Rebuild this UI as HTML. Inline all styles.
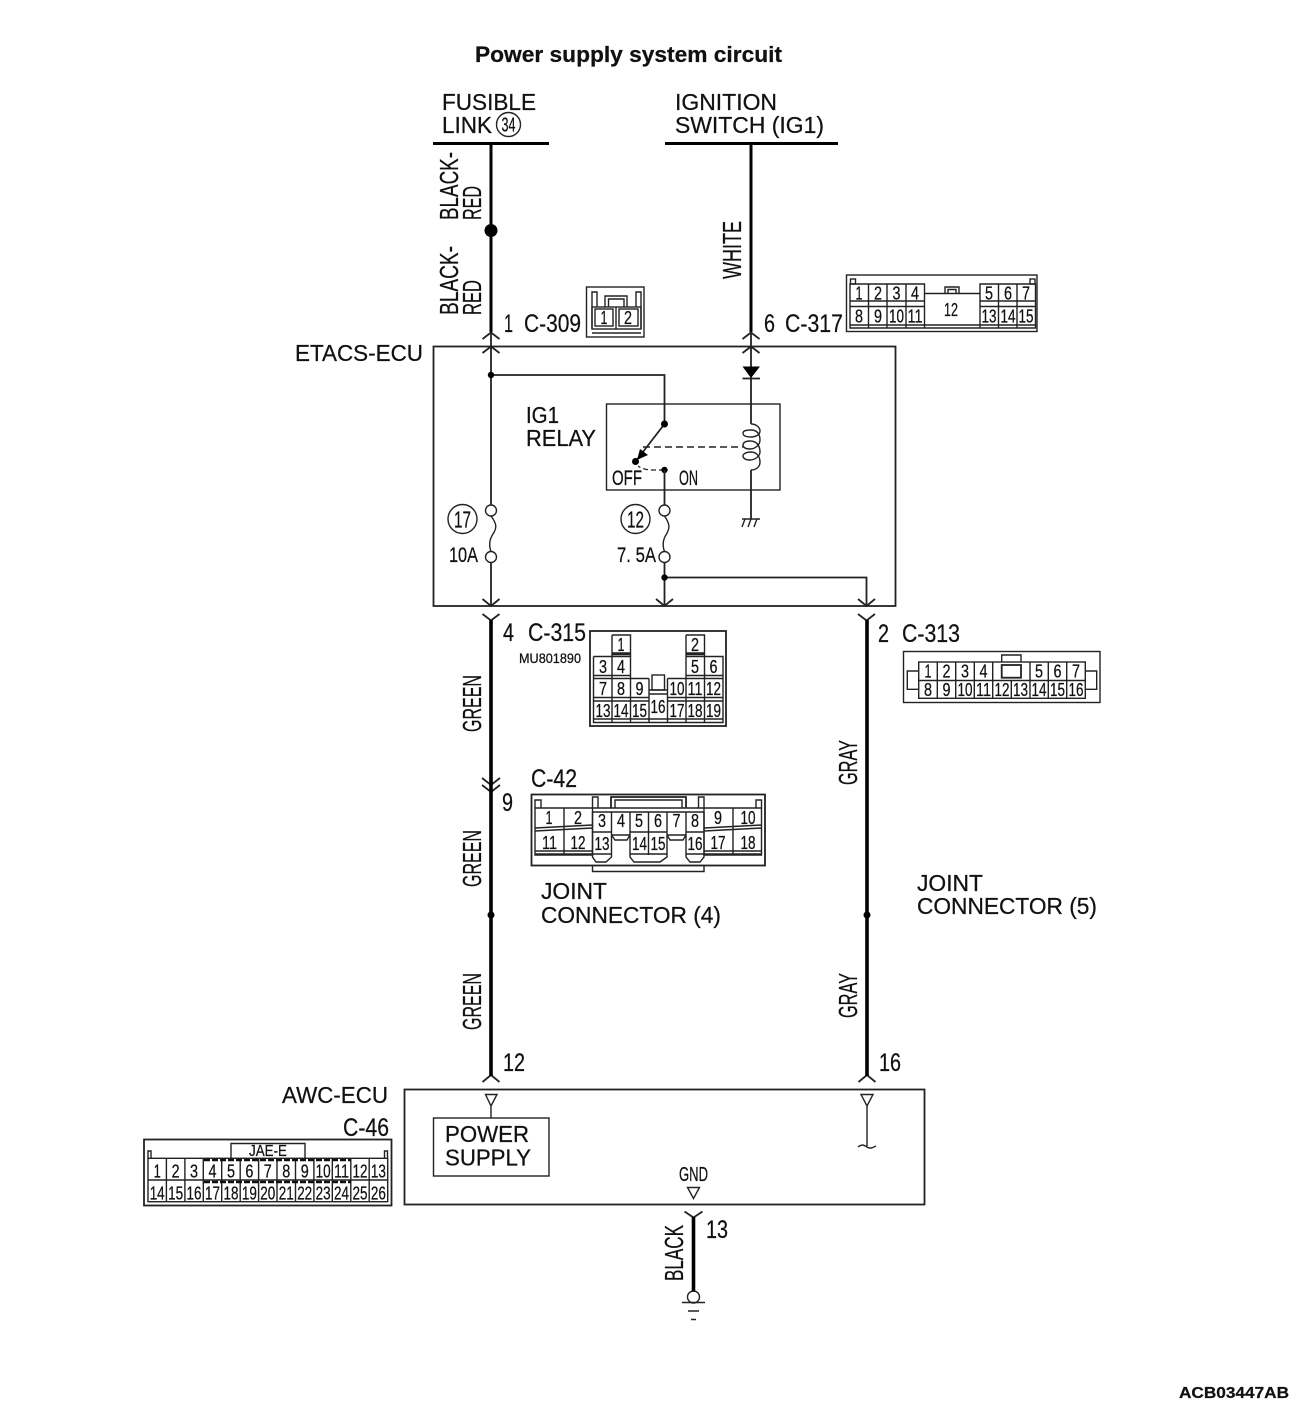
<!DOCTYPE html>
<html><head><meta charset="utf-8"><title>Power supply system circuit</title>
<style>
html,body{margin:0;padding:0;background:#fff}
svg{display:block;filter:blur(.3px)}
text{font-family:"Liberation Sans",sans-serif;fill:#111;stroke:#111;stroke-width:.25px}
.l{font-size:23px}
.c{font-size:25px}
.n{font-size:18px;text-anchor:middle}
.n2{font-size:18px;text-anchor:middle}
.t{fill:none;stroke:#222;stroke-width:1.4}
.m{fill:none;stroke:#222;stroke-width:1.8}
.w{fill:none;stroke:#000;stroke-width:3.6}
.h{fill:none;stroke:#000;stroke-width:3}
</style></head><body>
<svg xmlns="http://www.w3.org/2000/svg" width="1300" height="1407" viewBox="0 0 1300 1407">
<text x="475" y="62" font-size="22" font-weight="bold" textLength="307" lengthAdjust="spacingAndGlyphs">Power supply system circuit</text>
<text x="1179" y="1398" font-size="15.5" font-weight="bold" textLength="110" lengthAdjust="spacingAndGlyphs">ACB03447AB</text>

<text class="l" x="442" y="110" textLength="94" lengthAdjust="spacingAndGlyphs">FUSIBLE</text>
<text class="l" x="442" y="133" textLength="50" lengthAdjust="spacingAndGlyphs">LINK</text>
<circle cx="508.500" cy="124.500" r="12" class="t"/>
<text class="n" style="font-size:20px" x="508.500" y="131.500" textLength="14" lengthAdjust="spacingAndGlyphs">34</text>
<text class="l" x="675" y="110" textLength="102" lengthAdjust="spacingAndGlyphs">IGNITION</text>
<text class="l" x="675" y="133" textLength="149" lengthAdjust="spacingAndGlyphs">SWITCH (IG1)</text>
<path class="h" d="M433 143.500H549M665 143.500H838"/>
<path class="h" d="M491 143V332M751 143V332"/>
<ellipse cx="491" cy="230.500" rx="6.500" ry="6.500" fill="#000"/>

<g font-size="26">
<text transform="translate(458,220) rotate(-90)" textLength="68" lengthAdjust="spacingAndGlyphs">BLACK-</text>
<text transform="translate(481,220) rotate(-90)" textLength="34" lengthAdjust="spacingAndGlyphs">RED</text>
<text transform="translate(458,315) rotate(-90)" textLength="69" lengthAdjust="spacingAndGlyphs">BLACK-</text>
<text transform="translate(481,315) rotate(-90)" textLength="35" lengthAdjust="spacingAndGlyphs">RED</text>
<text transform="translate(741,279) rotate(-90)" textLength="58" lengthAdjust="spacingAndGlyphs">WHITE</text>
<text transform="translate(481,732) rotate(-90)" textLength="57" lengthAdjust="spacingAndGlyphs">GREEN</text>
<text transform="translate(481,887) rotate(-90)" textLength="57" lengthAdjust="spacingAndGlyphs">GREEN</text>
<text transform="translate(481,1030) rotate(-90)" textLength="57" lengthAdjust="spacingAndGlyphs">GREEN</text>
<text transform="translate(857,785) rotate(-90)" textLength="45" lengthAdjust="spacingAndGlyphs">GRAY</text>
<text transform="translate(857,1018) rotate(-90)" textLength="45" lengthAdjust="spacingAndGlyphs">GRAY</text>
<text transform="translate(683,1281) rotate(-90)" textLength="56" lengthAdjust="spacingAndGlyphs">BLACK</text>
</g>

<!-- labels -->
<text class="c" x="504" y="332" textLength="9" lengthAdjust="spacingAndGlyphs">1</text>
<text class="c" x="524" y="332" textLength="57" lengthAdjust="spacingAndGlyphs">C-309</text>
<text class="c" x="764" y="332" textLength="11" lengthAdjust="spacingAndGlyphs">6</text>
<text class="c" x="785" y="332" textLength="58" lengthAdjust="spacingAndGlyphs">C-317</text>
<text class="c" x="503" y="641" textLength="11" lengthAdjust="spacingAndGlyphs">4</text>
<text class="c" x="528" y="641" textLength="58" lengthAdjust="spacingAndGlyphs">C-315</text>
<text x="519" y="663" font-size="14" textLength="62" lengthAdjust="spacingAndGlyphs">MU801890</text>
<text class="c" x="878" y="642" textLength="11" lengthAdjust="spacingAndGlyphs">2</text>
<text class="c" x="902" y="642" textLength="58" lengthAdjust="spacingAndGlyphs">C-313</text>
<text class="c" x="531" y="787" textLength="46" lengthAdjust="spacingAndGlyphs">C-42</text>
<text class="c" x="502" y="811" textLength="11" lengthAdjust="spacingAndGlyphs">9</text>
<text class="c" x="503" y="1071" textLength="22" lengthAdjust="spacingAndGlyphs">12</text>
<text class="c" x="879" y="1071" textLength="22" lengthAdjust="spacingAndGlyphs">16</text>
<text class="c" x="706" y="1238" textLength="22" lengthAdjust="spacingAndGlyphs">13</text>
<text class="c" x="343" y="1136" textLength="46" lengthAdjust="spacingAndGlyphs">C-46</text>
<text class="l" x="295" y="361" textLength="128" lengthAdjust="spacingAndGlyphs">ETACS-ECU</text>
<text class="l" x="541" y="899" textLength="66" lengthAdjust="spacingAndGlyphs">JOINT</text>
<text class="l" x="541" y="923" textLength="180" lengthAdjust="spacingAndGlyphs">CONNECTOR (4)</text>
<text class="l" x="917" y="891" textLength="66" lengthAdjust="spacingAndGlyphs">JOINT</text>
<text class="l" x="917" y="914" textLength="180" lengthAdjust="spacingAndGlyphs">CONNECTOR (5)</text>
<text class="l" x="282" y="1103" textLength="106" lengthAdjust="spacingAndGlyphs">AWC-ECU</text>

<!-- ETACS box -->
<rect x="433.500" y="346.500" width="462" height="259.500" class="m"/>
<rect x="606.500" y="404" width="173.500" height="86" class="t"/>
<text class="l" x="526" y="423" textLength="33" lengthAdjust="spacingAndGlyphs">IG1</text>
<text class="l" x="526" y="446" textLength="70" lengthAdjust="spacingAndGlyphs">RELAY</text>
<text x="612" y="485" font-size="21" textLength="30" lengthAdjust="spacingAndGlyphs">OFF</text>
<text x="679" y="485" font-size="21" textLength="19" lengthAdjust="spacingAndGlyphs">ON</text>

<!-- inside wiring -->
<path class="m" d="M491 332V505.500M491 562.500V606"/>
<path class="m" d="M491 375H664.500V424"/>
<path class="m" d="M664.500 424L635.500 461.500"/>
<path d="M637 460L640 449L648 455Z" fill="#000"/>
<path d="M643 447H743" fill="none" stroke="#222" stroke-width="1.500" stroke-dasharray="7 4"/>
<path d="M664 470H652Q644 470 638 466" fill="none" stroke="#222" stroke-width="1.300" stroke-dasharray="5 3"/>
<circle cx="635.500" cy="461.500" r="3.500" fill="#000"/>
<circle cx="664.500" cy="424" r="3.500" fill="#000"/>
<circle cx="664.500" cy="470" r="3.200" fill="#000"/>
<circle cx="491" cy="375" r="3.200" fill="#000"/>
<path class="m" d="M664.500 470V505.500M664.500 562.500V606"/>
<path class="m" d="M664.500 577.500H866.500V606"/>
<circle cx="664.500" cy="577.500" r="3.200" fill="#000"/>
<!-- diode + coil -->
<path class="m" d="M751 332V424M751 470V519"/>
<path d="M742.500 366.500H760L751 378Z" fill="#000"/>
<path class="m" d="M742.500 378.500H760"/>
<path class="t" d="M751 424C757 424 760 428 760 431C760 435 755 437 751 437C745 437 743 435 743 433C743 431 745 430 751 430C757 430 760 434 760 440C760 445 755 449 750 449C745 449 743 447 743 445C743 443 745 441 750 441C757 441 760 446 760 452C760 456 755 460 750 460C745 460 743 458 743 456C743 454 746 452 751 452C757 452 760 457 760 462C760 467 756 470 751 470"/>
<!-- ground -->
<path class="t" d="M742 519H760M745 519L742 527M751 519L748 527M757 519L754 527"/>
<!-- fuses -->
<circle cx="491" cy="510.500" r="5.500" class="t" fill="#fff"/>
<circle cx="491" cy="557" r="5.500" class="t" fill="#fff"/>
<path class="t" d="M491 516C497 524 497 528 493 534C489 540 489 546 491 551.500"/>
<circle cx="664.500" cy="510.500" r="5.500" class="t" fill="#fff"/>
<circle cx="664.500" cy="557" r="5.500" class="t" fill="#fff"/>
<path class="t" d="M664.500 516C670 524 670 528 666.500 534C662.500 540 662.500 546 664.500 551.500"/>
<circle cx="462.500" cy="519" r="14.500" class="t"/>
<text class="n" style="font-size:23px" x="462.500" y="527.500" textLength="17" lengthAdjust="spacingAndGlyphs">17</text>
<circle cx="635.500" cy="519" r="14.500" class="t"/>
<text class="n" style="font-size:23px" x="635.500" y="527.500" textLength="17" lengthAdjust="spacingAndGlyphs">12</text>
<text x="449" y="562" font-size="21" textLength="29" lengthAdjust="spacingAndGlyphs">10A</text>
<text x="617" y="562" font-size="21" textLength="39" lengthAdjust="spacingAndGlyphs">7. 5A</text>

<!-- chevrons -->
<path class="m" d="M482.500 339L491 332.500L499.500 339M482.500 353L491 346.500L499.500 353M742.500 339L751 332.500L759.500 339M742.500 353L751 346.500L759.500 353"/>
<path class="m" d="M482.500 599L491 606L499.500 599M482.500 614L491 620.500L499.500 614M656 599L664.500 606L673 599M858 599L866.500 606L875 599M858 614L866.500 620.500L875 614"/>
<path class="m" d="M482 778L491 785L500 778M482 785L491 792L500 785"/>
<path class="m" d="M482.500 1082L491 1075L499.500 1082M858.500 1082L867 1075L875.500 1082"/>
<!-- wires -->
<path class="w" d="M491 620V1076M867 620V1076"/>
<circle cx="491" cy="915" r="3.500" fill="#000"/>
<circle cx="867" cy="915" r="3.500" fill="#000"/>

<!-- AWC -->
<rect x="404.500" y="1089.500" width="520" height="115" class="m"/>
<path class="t" d="M485.500 1094.500H497L491 1106ZM491 1106V1118"/>
<rect x="433.500" y="1118" width="115.500" height="58" class="t"/>
<text class="l" x="445" y="1142" textLength="84" lengthAdjust="spacingAndGlyphs">POWER</text>
<text class="l" x="445" y="1165.500" textLength="86" lengthAdjust="spacingAndGlyphs">SUPPLY</text>
<path class="t" d="M861 1094.500H873L867 1106ZM867 1106V1146"/>
<path class="t" d="M858 1147C862 1144 864 1145 867 1147C870 1149 872 1148 876 1146"/>
<text x="679" y="1181" font-size="20" textLength="29" lengthAdjust="spacingAndGlyphs">GND</text>
<path class="t" d="M687.500 1187.500H699.500L693.500 1198.500Z"/>
<path class="m" d="M684.500 1211.500L693.500 1217.500L702.500 1211.500"/>
<path class="w" d="M693.500 1217V1292"/>
<circle cx="693.500" cy="1297" r="6" class="t" fill="#fff"/>
<path class="t" d="M682 1302.500H705M688 1311H699M691 1319.500H696"/>

<!-- C-309 -->
<rect x="586.500" y="287" width="57.500" height="50" class="t"/>
<path class="t" d="M592 329V292H597V307M636 307V292H641V329M605 307V296H627V307M608.500 307V299H624V307M592 333H641"/>
<rect x="592" y="307" width="49" height="22" class="t"/>
<rect x="595" y="309" width="18" height="17" class="t"/>
<rect x="619" y="309" width="19" height="17" class="t"/>
<path class="t" d="M616 307V329"/>
<text class="n" x="604" y="324" textLength="7" lengthAdjust="spacingAndGlyphs">1</text>
<text class="n" x="628" y="324" textLength="8" lengthAdjust="spacingAndGlyphs">2</text>

<!-- C-317 -->
<rect x="846.500" y="275" width="190.500" height="56.500" class="t"/>
<rect x="850.500" y="279" width="5" height="5" class="t"/>
<rect x="1030" y="279" width="5" height="5" class="t"/>
<path class="t" d="M850 284H924.500V328H850ZM980 284H1035.500V328H980ZM850 301H924.500M850 306.500H924.500M980 301H1035.500M980 306.500H1035.500M850 325H1035.500M850 328H1035.500M868.500 284V328M887 284V328M906 284V328M998.500 284V328M1017 284V328M924.500 293.500H980M945 293.500V287H959V293.500M948 293.500V289.500H956V293.500"/>
<text class="n" x="859" y="299.500" textLength="7" lengthAdjust="spacingAndGlyphs">1</text><text class="n" x="878" y="299.500" textLength="8" lengthAdjust="spacingAndGlyphs">2</text><text class="n" x="896.500" y="299.500" textLength="8" lengthAdjust="spacingAndGlyphs">3</text><text class="n" x="915" y="299.500" textLength="8" lengthAdjust="spacingAndGlyphs">4</text><text class="n" x="989" y="299.500" textLength="8" lengthAdjust="spacingAndGlyphs">5</text><text class="n" x="1008" y="299.500" textLength="8" lengthAdjust="spacingAndGlyphs">6</text><text class="n" x="1026" y="299.500" textLength="8" lengthAdjust="spacingAndGlyphs">7</text>
<text class="n" x="859" y="322.500" textLength="8" lengthAdjust="spacingAndGlyphs">8</text><text class="n" x="878" y="322.500" textLength="8" lengthAdjust="spacingAndGlyphs">9</text>
<text class="n2" x="896.500" y="322.500" textLength="15" lengthAdjust="spacingAndGlyphs">10</text><text class="n2" x="915" y="322.500" textLength="15" lengthAdjust="spacingAndGlyphs">11</text><text class="n2" x="989" y="322.500" textLength="15" lengthAdjust="spacingAndGlyphs">13</text><text class="n2" x="1008" y="322.500" textLength="15" lengthAdjust="spacingAndGlyphs">14</text><text class="n2" x="1026" y="322.500" textLength="15" lengthAdjust="spacingAndGlyphs">15</text>
<text class="n2" x="951" y="316" textLength="14" lengthAdjust="spacingAndGlyphs">12</text>

<!-- C-315 -->
<rect x="590" y="631" width="136" height="95" class="m"/>
<path class="t" d="M612 635H630.500V656.500M686 635H704.500V656.500M612 635V656.500M686 635V656.500M612 653H630.500M612 654.500H630.500M686 653H704.500M686 654.500H704.500"/>
<path class="t" d="M593.500 656.500H630.500V701M686 656.500H723V722.500H593.500V656.500M593.500 675.500H630.500M593.500 678.500H630.500M686 675.500H723M686 678.500H723M593.500 697.500H649V722.500M667.500 697.500H723M593.500 701H649M667.500 701H723M593.500 719H723M612 656.500V722.500M630.500 678.500V722.500M704.500 656.500V722.500M686 656.500V722.500M667.500 678.500V722.500M649 678.500V722.500M630.500 678.500H649M667.500 678.500H686"/>
<rect x="652" y="675" width="12.500" height="15" class="t"/>
<path class="t" d="M649 690H667.500M649 694H667.500"/>
<text class="n" x="621" y="651" textLength="7" lengthAdjust="spacingAndGlyphs">1</text><text class="n" x="695" y="651" textLength="8" lengthAdjust="spacingAndGlyphs">2</text>
<text class="n" x="603" y="673" textLength="8" lengthAdjust="spacingAndGlyphs">3</text><text class="n" x="621" y="673" textLength="8" lengthAdjust="spacingAndGlyphs">4</text><text class="n" x="695" y="673" textLength="8" lengthAdjust="spacingAndGlyphs">5</text><text class="n" x="713.500" y="673" textLength="8" lengthAdjust="spacingAndGlyphs">6</text>
<text class="n" x="603" y="695" textLength="8" lengthAdjust="spacingAndGlyphs">7</text><text class="n" x="621" y="695" textLength="8" lengthAdjust="spacingAndGlyphs">8</text><text class="n" x="639.500" y="695" textLength="8" lengthAdjust="spacingAndGlyphs">9</text>
<text class="n2" x="677" y="695" textLength="15" lengthAdjust="spacingAndGlyphs">10</text><text class="n2" x="695" y="695" textLength="15" lengthAdjust="spacingAndGlyphs">11</text><text class="n2" x="713.500" y="695" textLength="15" lengthAdjust="spacingAndGlyphs">12</text>
<text class="n2" x="603" y="717" textLength="15" lengthAdjust="spacingAndGlyphs">13</text><text class="n2" x="621" y="717" textLength="15" lengthAdjust="spacingAndGlyphs">14</text><text class="n2" x="639.500" y="717" textLength="15" lengthAdjust="spacingAndGlyphs">15</text><text class="n2" x="658" y="713" textLength="15" lengthAdjust="spacingAndGlyphs">16</text><text class="n2" x="677" y="717" textLength="15" lengthAdjust="spacingAndGlyphs">17</text><text class="n2" x="695" y="717" textLength="15" lengthAdjust="spacingAndGlyphs">18</text><text class="n2" x="713.500" y="717" textLength="15" lengthAdjust="spacingAndGlyphs">19</text>

<!-- C-42 -->
<rect x="531.500" y="794.500" width="233.500" height="71" class="m"/>
<path class="t" d="M592.500 865.500V871.500H704V865.500"/>
<path class="t" d="M535 808V800H541V808M756 808V800H761.500V808M592.500 808V797H598V808M698.500 808V797H704V808"/>
<path class="m" d="M611 808V797H686V808"/>
<path class="t" d="M615 808V800H682V808"/>
<path class="t" d="M535 808H592.500V855H535ZM704 808H761.500V855H704ZM564 808V855M733 808V855M592.500 808H704M592.500 812H704M535 828L592.500 825M535 831L592.500 828M704 828L761.500 825M704 831L761.500 828M535 851H592.500M535 854H592.500M704 851H761.500M704 854H761.500"/>
<path class="t" d="M592.500 812V857L596 862H606L611.500 857V812M611.500 812V835H630V812M630 812V857L634 862H660L667 857V812M648.500 812V855M667 812V835H686V812M686 812V857L690 862H700L704 857V812M592.500 832H611.500M630 832H667M686 832H704M592.500 854H611.500M630 854H667M686 854H704M611.500 835L615 840H627L630 835M667 835L670 840H683L686 835"/>
<text class="n" x="549" y="824" textLength="7" lengthAdjust="spacingAndGlyphs">1</text><text class="n" x="578" y="824" textLength="8" lengthAdjust="spacingAndGlyphs">2</text><text class="n" x="602" y="827" textLength="8" lengthAdjust="spacingAndGlyphs">3</text><text class="n" x="621" y="827" textLength="8" lengthAdjust="spacingAndGlyphs">4</text><text class="n" x="639" y="827" textLength="8" lengthAdjust="spacingAndGlyphs">5</text><text class="n" x="658" y="827" textLength="8" lengthAdjust="spacingAndGlyphs">6</text><text class="n" x="676.500" y="827" textLength="8" lengthAdjust="spacingAndGlyphs">7</text><text class="n" x="695" y="827" textLength="8" lengthAdjust="spacingAndGlyphs">8</text><text class="n" x="718" y="824" textLength="8" lengthAdjust="spacingAndGlyphs">9</text>
<text class="n2" x="748" y="824" textLength="15" lengthAdjust="spacingAndGlyphs">10</text>
<text class="n2" x="549.500" y="849" textLength="15" lengthAdjust="spacingAndGlyphs">11</text><text class="n2" x="578" y="849" textLength="15" lengthAdjust="spacingAndGlyphs">12</text><text class="n2" x="602" y="850" textLength="15" lengthAdjust="spacingAndGlyphs">13</text><text class="n2" x="639.500" y="850" textLength="15" lengthAdjust="spacingAndGlyphs">14</text><text class="n2" x="658" y="850" textLength="15" lengthAdjust="spacingAndGlyphs">15</text><text class="n2" x="695" y="850" textLength="15" lengthAdjust="spacingAndGlyphs">16</text><text class="n2" x="718" y="849" textLength="15" lengthAdjust="spacingAndGlyphs">17</text><text class="n2" x="748" y="849" textLength="15" lengthAdjust="spacingAndGlyphs">18</text>

<!-- C-313 -->
<rect x="903.500" y="651.500" width="196.500" height="51" class="t"/>
<rect x="918.700" y="662" width="166.600" height="36.300" class="t"/>
<path class="t" d="M918.700 680.500H1001M1021 680.500H1085.300M937.300 662V698.300M955.700 662V698.300M974.300 662V698.300M992.700 662V698.300M1030 662V698.300M1048.300 662V698.300M1066.700 662V698.300M1011.300 680.500V698.300M992.700 680.500H1030"/>
<rect x="1001.700" y="665" width="19.300" height="12.700" class="m"/>
<path class="t" d="M1001.700 662V655H1021V662M918.700 671H907.300V689.300H918.700M1085.300 671H1096.700V689.300H1085.300"/>
<text class="n" x="928" y="677.500" textLength="7" lengthAdjust="spacingAndGlyphs">1</text><text class="n" x="946.500" y="677.500" textLength="8" lengthAdjust="spacingAndGlyphs">2</text><text class="n" x="965" y="677.500" textLength="8" lengthAdjust="spacingAndGlyphs">3</text><text class="n" x="983.500" y="677.500" textLength="8" lengthAdjust="spacingAndGlyphs">4</text><text class="n" x="1039" y="677.500" textLength="8" lengthAdjust="spacingAndGlyphs">5</text><text class="n" x="1057.500" y="677.500" textLength="8" lengthAdjust="spacingAndGlyphs">6</text><text class="n" x="1076" y="677.500" textLength="8" lengthAdjust="spacingAndGlyphs">7</text>
<text class="n" x="928" y="696" textLength="8" lengthAdjust="spacingAndGlyphs">8</text><text class="n" x="946.500" y="696" textLength="8" lengthAdjust="spacingAndGlyphs">9</text>
<text class="n2" x="965" y="696" textLength="15" lengthAdjust="spacingAndGlyphs">10</text><text class="n2" x="983.500" y="696" textLength="15" lengthAdjust="spacingAndGlyphs">11</text><text class="n2" x="1002" y="696" textLength="15" lengthAdjust="spacingAndGlyphs">12</text><text class="n2" x="1020.500" y="696" textLength="15" lengthAdjust="spacingAndGlyphs">13</text><text class="n2" x="1039" y="696" textLength="15" lengthAdjust="spacingAndGlyphs">14</text><text class="n2" x="1057.500" y="696" textLength="15" lengthAdjust="spacingAndGlyphs">15</text><text class="n2" x="1076" y="696" textLength="15" lengthAdjust="spacingAndGlyphs">16</text>

<!-- C-46 -->
<rect x="144" y="1139.500" width="247.500" height="66" class="m"/>
<path class="t" d="M231 1158V1143.500H305V1158M148 1158V1151H151V1158M384.500 1158V1151H387.500V1158"/>
<rect x="148" y="1158.300" width="239.700" height="43.400" class="t"/>
<path class="t" d="M148 1180H387.700M166.400 1158.300V1201.700M184.900 1158.300V1201.700M203.300 1158.300V1201.700M221.700 1158.300V1201.700M240.200 1158.300V1201.700M258.600 1158.300V1201.700M277 1158.300V1201.700M295.500 1158.300V1201.700M313.900 1158.300V1201.700M332.300 1158.300V1201.700M350.800 1158.300V1201.700M369.200 1158.300V1201.700"/>
<path d="M204 1160H351M204 1182H351" fill="none" stroke="#111" stroke-width="2.500" stroke-dasharray="6 2"/>
<text class="n" style="font-size:16px" x="268" y="1156" textLength="38" lengthAdjust="spacingAndGlyphs">JAE-E</text>
<text class="n" x="157.200" y="1177.500" textLength="7" lengthAdjust="spacingAndGlyphs">1</text><text class="n" x="175.600" y="1177.500" textLength="8" lengthAdjust="spacingAndGlyphs">2</text><text class="n" x="194" y="1177.500" textLength="8" lengthAdjust="spacingAndGlyphs">3</text><text class="n" x="212.500" y="1177.500" textLength="8" lengthAdjust="spacingAndGlyphs">4</text><text class="n" x="231" y="1177.500" textLength="8" lengthAdjust="spacingAndGlyphs">5</text><text class="n" x="249.400" y="1177.500" textLength="8" lengthAdjust="spacingAndGlyphs">6</text><text class="n" x="267.800" y="1177.500" textLength="8" lengthAdjust="spacingAndGlyphs">7</text><text class="n" x="286.300" y="1177.500" textLength="8" lengthAdjust="spacingAndGlyphs">8</text><text class="n" x="304.700" y="1177.500" textLength="8" lengthAdjust="spacingAndGlyphs">9</text>
<text class="n2" x="323.100" y="1177.500" textLength="15" lengthAdjust="spacingAndGlyphs">10</text><text class="n2" x="341.500" y="1177.500" textLength="15" lengthAdjust="spacingAndGlyphs">11</text><text class="n2" x="360" y="1177.500" textLength="15" lengthAdjust="spacingAndGlyphs">12</text><text class="n2" x="378.400" y="1177.500" textLength="15" lengthAdjust="spacingAndGlyphs">13</text>
<text class="n2" x="157.200" y="1199.500" textLength="15" lengthAdjust="spacingAndGlyphs">14</text><text class="n2" x="175.600" y="1199.500" textLength="15" lengthAdjust="spacingAndGlyphs">15</text><text class="n2" x="194" y="1199.500" textLength="15" lengthAdjust="spacingAndGlyphs">16</text><text class="n2" x="212.500" y="1199.500" textLength="15" lengthAdjust="spacingAndGlyphs">17</text><text class="n2" x="231" y="1199.500" textLength="15" lengthAdjust="spacingAndGlyphs">18</text><text class="n2" x="249.400" y="1199.500" textLength="15" lengthAdjust="spacingAndGlyphs">19</text><text class="n2" x="267.800" y="1199.500" textLength="15" lengthAdjust="spacingAndGlyphs">20</text><text class="n2" x="286.300" y="1199.500" textLength="15" lengthAdjust="spacingAndGlyphs">21</text><text class="n2" x="304.700" y="1199.500" textLength="15" lengthAdjust="spacingAndGlyphs">22</text><text class="n2" x="323.100" y="1199.500" textLength="15" lengthAdjust="spacingAndGlyphs">23</text><text class="n2" x="341.500" y="1199.500" textLength="15" lengthAdjust="spacingAndGlyphs">24</text><text class="n2" x="360" y="1199.500" textLength="15" lengthAdjust="spacingAndGlyphs">25</text><text class="n2" x="378.400" y="1199.500" textLength="15" lengthAdjust="spacingAndGlyphs">26</text>
</svg>
</body></html>
